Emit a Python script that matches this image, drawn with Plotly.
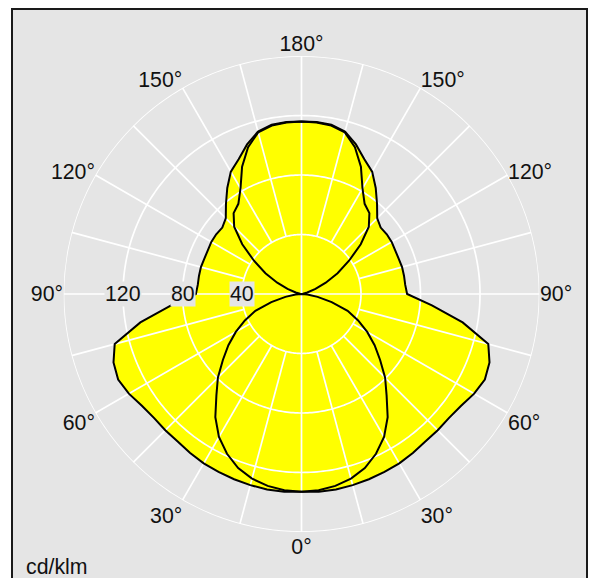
import plotly.graph_objects as go
import numpy as np

# ---- data (cd/klm) ----
gamma = list(range(0, 181, 5))  # gamma angle, 0 = nadir, 180 = zenith

# wide "batwing" plane
plane_wide = [133, 133.5, 133.5, 133, 132.5, 132, 131.5, 130.5, 129.5, 129.5,
              129.5, 131, 134, 136, 134.5, 130, 110, 88, 71, 70,
              70, 70, 69.5, 69.5, 70, 70, 69.5, 72, 79, 87,
              95, 100, 107, 113, 115.5, 116, 116]

# narrow two-lobe plane
plane_narrow = [133, 132.5, 131, 128.5, 124.5, 118.5, 111, 101, 89, 79.5,
                69, 60, 51, 42, 33, 21, 11, 4, 0, 0,
                1, 4, 10, 18, 28, 39, 52, 64, 71, 74,
                82, 94.5, 105, 112.5, 115, 115.8, 116]

ring_values = [40, 80, 120, 160]
radial_labels = ["40", "80", "120"]
angle_ticks = list(range(0, 360, 30))
angle_text = ["0°", "30°", "60°", "90°", "120°", "150°", "180°",
              "150°", "120°", "90°", "60°", "30°"]
unit_label = "cd/klm"

# ---- geometry / style ----
W, H = 597, 578
OFF = 8  # page body margin: figure is drawn 8px right/down of window origin
CX, CY, R = 301.5 - OFF, 294 - OFF, 238
RMAX = 160
FONT = dict(family="Liberation Sans, Arial, sans-serif", size=21.3, color="#111111")
BG = "#e5e5e5"
YELLOW = "#ffff00"


def full_curve(vals):
    theta = list(gamma) + [360 - g for g in gamma[::-1]]
    r = list(vals) + list(vals[::-1])
    return r, theta


fig = go.Figure()

# yellow fills
for vals in (plane_wide, plane_narrow):
    r, th = full_curve(vals)
    fig.add_trace(go.Scatterpolar(r=r, theta=th, mode="lines", fill="toself",
                                  fillcolor=YELLOW,
                                  line=dict(width=0, color="rgba(0,0,0,0)"),
                                  hoverinfo="skip", showlegend=False))

# white grid rings
rr, tt = [], []
for v in ring_values:
    ang = np.linspace(0, 360, 361)
    rr += [v] * len(ang) + [None]
    tt += list(ang) + [None]
fig.add_trace(go.Scatterpolar(r=rr, theta=tt, mode="lines",
                              line=dict(color="white", width=1.7),
                              hoverinfo="skip", showlegend=False))

# white spokes
rr, tt = [], []
for a in range(0, 360, 15):
    start = 0 if a % 90 == 0 else ring_values[0]
    rr += [start, RMAX, None]
    tt += [a, a, None]
fig.add_trace(go.Scatterpolar(r=rr, theta=tt, mode="lines",
                              line=dict(color="white", width=1.7),
                              hoverinfo="skip", showlegend=False))

# black outlines
for vals in (plane_wide, plane_narrow):
    r, th = full_curve(vals)
    fig.add_trace(go.Scatterpolar(r=r, theta=th, mode="lines",
                                  line=dict(color="black", width=2),
                                  hoverinfo="skip", showlegend=False))

annotations = []
for lab in radial_labels:
    v = float(lab)
    annotations.append(dict(
        x=(CX - v / RMAX * R) / W, y=1 - CY / H, xref="paper", yref="paper",
        text=lab, showarrow=False, xanchor="center", yanchor="middle",
        font=FONT, bgcolor=BG, borderpad=0))
annotations.append(dict(x=(24 - OFF) / W, y=1 - (567 - OFF) / H,
                        xref="paper", yref="paper",
                        text=unit_label, showarrow=False, xanchor="left",
                        yanchor="middle", font=FONT))

fig.update_layout(
    width=W, height=H,
    margin=dict(l=0, r=0, t=0, b=0),
    paper_bgcolor="white",
    showlegend=False,
    polar=dict(
        domain=dict(x=[(CX - R) / W, (CX + R) / W],
                    y=[1 - (CY + R) / H, 1 - (CY - R) / H]),
        bgcolor="rgba(0,0,0,0)",
        radialaxis=dict(range=[0, RMAX], showgrid=False, showline=False,
                        showticklabels=False, ticks=""),
        angularaxis=dict(rotation=-90, direction="counterclockwise",
                         tickmode="array", tickvals=angle_ticks, ticktext=angle_text,
                         showgrid=False, showline=False, ticks="",
                         tickfont=FONT),
    ),
    shapes=[dict(type="rect", xref="paper", yref="paper",
                 x0=(12 - OFF) / W, x1=(587 - OFF) / W, y0=-0.1,
                 y1=1 - (9 - OFF) / H,
                 fillcolor=BG, line=dict(color="#1a1a1a", width=2),
                 layer="below")],
    annotations=annotations,
)

fig.write_html("out.html")
